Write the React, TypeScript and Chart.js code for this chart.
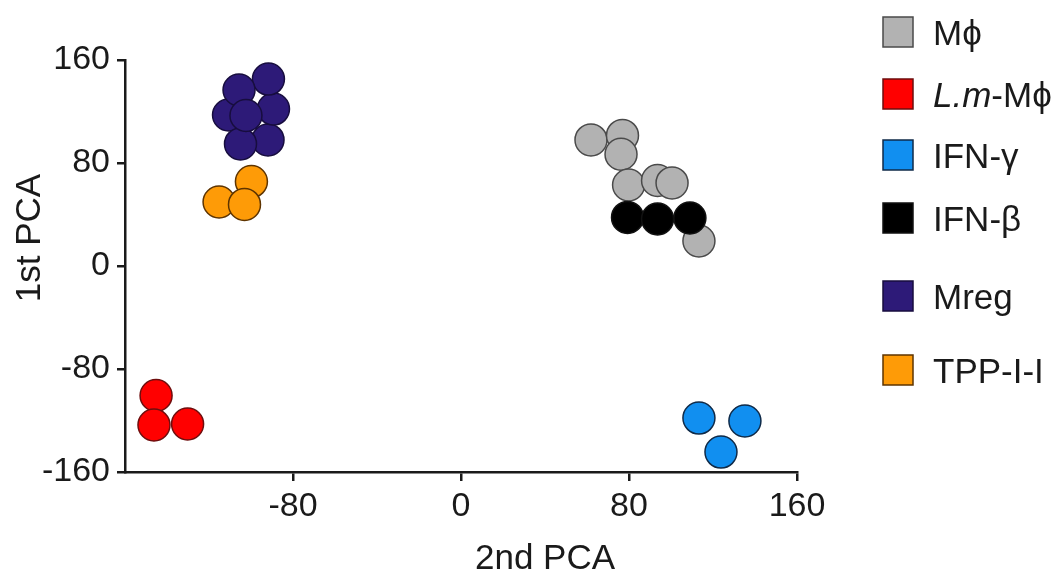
import React, { useEffect, useRef } from 'react';
import { Chart, registerables } from 'chart.js';

Chart.register(...registerables);

const FONT = '"Liberation Sans", Arial, Helvetica, sans-serif';

// ---- data (x = 2nd PCA, y = 1st PCA) ----
const mphiPoints = [[61.9, 97.9], [76.9, 101.4], [76.2, 86.8], [79.8, 62.9], [93.6, 66.4], [100.5, 64.5], [113.3, 19.4]];
const lmMphiPoints = [[-145.2, -100.6], [-146.2, -123.5], [-130.2, -122.7]];
const ifnGammaPoints = [[113.3, -118.1], [135.2, -120.4], [123.8, -144.5]];
const ifnBetaPoints = [[79.3, 37.7], [93.6, 36.5], [109.0, 37.3]];
const mregPoints = [[-91.9, 97.9], [-89.3, 121.9], [-91.7, 145.2], [-110.7, 117.3], [-105.7, 136.7], [-105.0, 94.8], [-102.4, 116.9]];
const tppPoints = [[-99.8, 65.6], [-115.2, 49.7], [-103.1, 47.8]];

const axisTicks = [-160, -80, 0, 80, 160];
const xTitle = '2nd PCA';
const yTitle = '1st PCA';

// legend label parts: [text, italic]
const legendLabels: [string, boolean][][] = [
  [['M\u03D5', false]],
  [['L.m', true], ['-M\u03D5', false]],
  [['IFN-\u03B3', false]],
  [['IFN-\u03B2', false]],
  [['Mreg', false]],
  [['TPP-I-I', false]],
];

const groups = [
  { label: 'M\u03D5', points: mphiPoints, fill: '#b2b2b2', border: '#4a4a4a', order: 1 },
  { label: 'L.m-M\u03D5', points: lmMphiPoints, fill: '#ff0000', border: '#6e0d0d', order: 1 },
  { label: 'IFN-\u03B3', points: ifnGammaPoints, fill: '#118ff0', border: '#0f2a48', order: 1 },
  { label: 'IFN-\u03B2', points: ifnBetaPoints, fill: '#000000', border: '#111111', order: 0 },
  { label: 'Mreg', points: mregPoints, fill: '#2d1a78', border: '#170d3e', order: 1 },
  { label: 'TPP-I-I', points: tppPoints, fill: '#fe9b07', border: '#5e3400', order: 1 },
];

const legendRowsY = [32, 94, 155, 218, 296, 370];

const decorPlugin = {
  id: 'decor',
  afterDraw(chart: any) {
    const ctx = chart.ctx as CanvasRenderingContext2D;
    ctx.save();
    ctx.fillStyle = '#1a1a1a';
    ctx.textBaseline = 'alphabetic';
    // x title
    ctx.font = `35px ${FONT}`;
    ctx.textAlign = 'center';
    ctx.fillText(xTitle, 545, 569);
    // y title
    ctx.save();
    ctx.translate(40, 238);
    ctx.rotate(-Math.PI / 2);
    ctx.fillText(yTitle, 0, 0);
    ctx.restore();

    // legend
    const size = 30;
    legendLabels.forEach((parts, i) => {
      const g = groups[i];
      const cy = legendRowsY[i];
      ctx.fillStyle = g.fill;
      ctx.fillRect(883, cy - size / 2, size, size);
      ctx.strokeStyle = g.border;
      ctx.lineWidth = 1.5;
      ctx.strokeRect(883, cy - size / 2, size, size);
      let x = 933;
      ctx.textAlign = 'left';
      ctx.fillStyle = '#1a1a1a';
      parts.forEach(([t, it]) => {
        ctx.font = `${it ? 'italic ' : ''}35px ${FONT}`;
        ctx.fillText(t, x, cy + 12.5);
        x += ctx.measureText(t).width;
      });
    });
    ctx.restore();
  },
};

export default function App() {
  const ref = useRef<HTMLCanvasElement | null>(null);

  useEffect(() => {
    if (!ref.current) return;
    const chart = new Chart(ref.current, {
      type: 'scatter',
      data: {
        datasets: groups.map((g) => ({
          label: g.label,
          data: g.points.map(([x, y]) => ({ x, y })),
          backgroundColor: g.fill,
          borderColor: g.border,
          borderWidth: 1.5,
          pointRadius: 16,
          pointHoverRadius: 16,
          order: g.order,
        })),
      },
      options: {
        responsive: false,
        animation: false,
        devicePixelRatio: 1,
        layout: { padding: { left: 0, top: 60, right: 263, bottom: 0 } },
        plugins: { legend: { display: false }, tooltip: { enabled: false } },
        scales: {
          x: {
            type: 'linear',
            min: -160,
            max: 160,
            afterBuildTicks: (s: any) => { s.ticks = axisTicks.map((v) => ({ value: v })); },
            afterFit: (s: any) => { s.height = 101; },
            border: { display: true, color: '#1a1a1a', width: 2.5 },
            grid: { display: true, drawOnChartArea: false, drawTicks: true, tickLength: 9, color: '#1a1a1a', lineWidth: 2.5 },
            ticks: {
              maxRotation: 0,
              autoSkip: false,
              padding: 5,
              color: '#1a1a1a',
              font: { size: 34, family: FONT },
              callback: (v: any) => (Number(v) === -160 ? null : String(v)),
            },
          },
          y: {
            type: 'linear',
            min: -160,
            max: 160,
            afterBuildTicks: (s: any) => { s.ticks = axisTicks.map((v) => ({ value: v })); },
            afterFit: (s: any) => { s.width = 125; },
            border: { display: true, color: '#1a1a1a', width: 2.5 },
            grid: { display: true, drawOnChartArea: false, drawTicks: true, tickLength: 8, color: '#1a1a1a', lineWidth: 2.5 },
            ticks: {
              autoSkip: false,
              padding: 7,
              color: '#1a1a1a',
              font: { size: 34, family: FONT },
              callback: (v: any) => String(v),
            },
          },
        },
      },
      plugins: [decorPlugin],
    });
    return () => chart.destroy();
  }, []);

  return (
    <div style={{ position: 'fixed', left: 0, top: 0, width: 1060, height: 573, background: '#fff' }}>
      <canvas ref={ref} width={1060} height={573} style={{ display: 'block', width: 1060, height: 573 }} />
    </div>
  );
}
